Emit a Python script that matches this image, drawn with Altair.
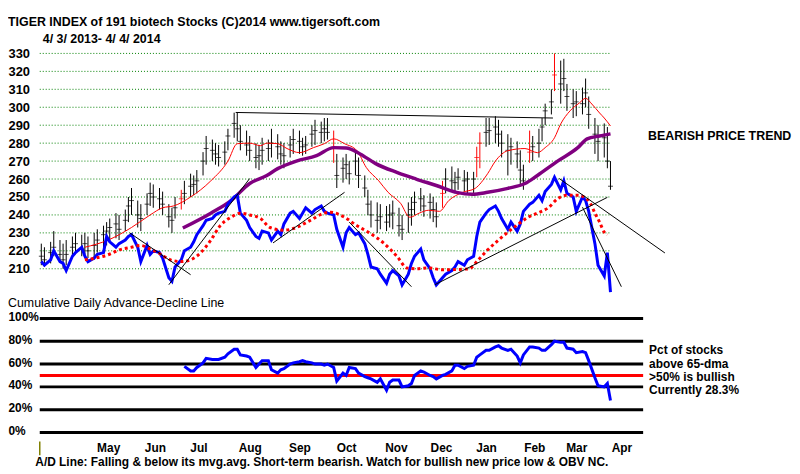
import altair as alt
import pandas as pd

FONT = "Liberation Sans"

# ---------------- text ----------------
TITLE = "TIGER INDEX of  191 biotech Stocks  (C)2014  www.tigersoft.com"
SUBTITLE = "4/ 3/ 2013- 4/ 4/ 2014"
PANEL2_TITLE = "Cumulative Daily Advance-Decline Line"
BOTTOM_NOTE = ("A/D Line: Falling & below its mvg.avg. Short-term bearish. "
               "Watch for bullish new price low & OBV NC.")
TREND_NOTE = "BEARISH PRICE TREND"
PCT_NOTE = "Pct of stocks\nabove 65-dma\n>50% is bullish\nCurrently  28.3%"

PRICE_TICKS = [210, 220, 230, 240, 250, 260, 270, 280, 290, 300, 310, 320, 330]
PCT_TICKS = [0, 20, 40, 60, 80, 100]
MONTH_TICKS = [(2013, 5, 16), (2013, 6, 15), (2013, 7, 13), (2013, 8, 15),
               (2013, 9, 16), (2013, 10, 16), (2013, 11, 17), (2013, 12, 16),
               (2014, 1, 14), (2014, 2, 14), (2014, 3, 13), (2014, 4, 11)]

# ---------------- price bars (every 2nd trading day) ----------------
HIGH = [224, 222, 225, 231, 226, 224, 226, 228, 230, 229,
        230, 228, 230, 232, 234, 236, 238, 241, 240, 243,
        250, 255, 248, 246, 252, 258, 257, 255, 253, 246,
        244, 250, 254, 259, 263, 262, 265, 275, 284, 282,
        280, 279, 281, 288, 297, 297, 290, 287, 284, 280,
        279, 283, 282, 288, 285, 281, 280, 284, 288, 287,
        283, 284, 290, 293, 292, 294, 294, 287, 274, 272,
        274, 270, 275, 272, 262, 254, 248, 247, 246, 245,
        246, 248, 244, 240, 247, 250, 253, 255, 251, 252,
        250, 247, 259, 266, 267, 264, 266, 265, 264, 264,
        278, 286, 294, 294, 295, 293, 287, 285, 283, 281,
        276, 268, 287, 284, 288, 294, 302, 310, 330, 326,
        327, 313, 310, 309, 311, 316, 306, 294, 290, 291,
        289, 270]
LOW = [212, 211, 213, 217, 214, 210, 212, 217, 218, 217,
       218, 216, 215, 219, 222, 223, 225, 227, 226, 231,
       236, 240, 233, 231, 240, 245, 244, 243, 240, 233,
       230, 238, 243, 246, 250, 251, 252, 262, 268, 270,
       268, 267, 268, 276, 283, 281, 276, 273, 270, 266,
       265, 268, 270, 272, 271, 268, 266, 272, 274, 274,
       273, 274, 278, 279, 280, 281, 282, 269, 255, 258,
       260, 257, 262, 255, 250, 240, 233, 230, 232, 231,
       233, 232, 228, 226, 230, 234, 240, 242, 239, 238,
       236, 233, 244, 252, 253, 252, 254, 253, 252, 252,
       261, 266, 278, 279, 280, 278, 272, 262, 268, 266,
       256, 254, 269, 270, 272, 281, 290, 296, 309, 302,
       309, 298, 294, 295, 296, 300, 288, 274, 270, 272,
       266, 254]
CLOSE = [217, 215, 219, 222, 218, 215, 218, 222, 224, 221,
         224, 220, 223, 226, 229, 231, 233, 235, 232, 237,
         245, 248, 240, 238, 246, 252, 250, 249, 246, 239,
         237, 244, 249, 252, 256, 257, 259, 270, 277, 276,
         274, 272, 275, 284, 291, 288, 281, 279, 276, 272,
         273, 276, 277, 280, 278, 274, 273, 279, 282, 281,
         278, 279, 285, 287, 286, 288, 286, 277, 262, 266,
         268, 263, 270, 262, 255, 246, 240, 237, 239, 236,
         240, 241, 234, 232, 240, 243, 247, 249, 245, 247,
         243, 239, 252, 260, 259, 258, 261, 259, 260, 260,
         272, 280, 286, 287, 289, 285, 280, 276, 278, 274,
         265, 259, 275, 278, 280, 289, 298, 303, 318, 313,
         316, 306, 302, 303, 302, 308, 296, 285, 281, 283,
         270, 256]
RED_BARS = [32, 67, 92, 100, 101, 112, 118]

# ---------------- A/D line (drawn in the price panel) ----------------
AD_LINE = [214, 212, 215, 220, 214, 213, 209, 217, 219, 222,
           217, 214, 216, 218, 219, 228, 225, 222, 224, 226,
           228, 229, 222, 214, 223, 218, 220, 219, 216, 205,
           203, 211, 215, 220, 222, 225, 229, 234, 237, 238,
           240, 241, 242, 246, 250, 251, 241, 237, 233, 228,
           227, 231, 230, 226, 231, 229, 235, 241, 242, 238,
           241, 244, 241, 243, 245, 242, 241, 240, 232, 222,
           230, 233, 229, 230, 224, 218, 211, 210, 207, 202,
           207, 209, 206, 201, 207, 213, 217, 221, 215, 210,
           205, 201, 205, 207, 209, 211, 214, 212, 215, 217,
           228, 236, 241, 243, 245, 242, 238, 232, 236, 231,
           235, 242, 246, 247, 251, 248, 253, 257, 261, 254,
           259, 252, 250, 242, 250, 248, 242, 224, 212, 206,
           219, 197]

# ---------------- pct of stocks above 65-dma (from bar #33) ----------------
PCT_START = 33
PCT = [58, 54, 54, 57, 61, 65, 64,
       64, 64, 66, 69, 73, 73, 68, 67, 66, 57,
       60, 63, 63, 55, 52, 55, 56, 60, 61, 62,
       63, 62, 61, 60, 60, 59, 60, 57, 45, 52,
       50, 57, 56, 52, 49, 48, 47, 44, 47, 37,
       44, 46, 46, 40, 41, 43, 50, 54, 53, 50,
       49, 47, 50, 51, 54, 59, 59, 56, 58, 59,
       66, 68, 72, 72, 75, 76, 74, 72, 73, 67,
       61, 68, 75, 75, 74, 72, 72, 77, 80, 79,
       79, 74, 73, 70, 71, 70, 63, 48, 41, 40,
       43, 28]

# ---------------- moving averages ----------------
RED_MA_DATES = ["2013-05-01", "2013-05-16", "2013-05-31", "2013-06-12", "2013-06-20",
                "2013-06-27", "2013-07-08", "2013-07-21", "2013-08-01", "2013-08-07",
                "2013-08-15", "2013-08-22", "2013-08-26", "2013-09-02", "2013-09-08",
                "2013-09-16", "2013-09-25", "2013-10-02", "2013-10-08", "2013-10-15",
                "2013-10-23", "2013-10-29", "2013-11-06", "2013-11-12", "2013-11-20",
                "2013-11-26", "2013-12-02", "2013-12-08", "2013-12-15", "2013-12-21",
                "2013-12-30", "2014-01-07", "2014-01-15", "2014-01-20", "2014-01-28",
                "2014-02-08", "2014-02-16", "2014-02-21", "2014-02-27", "2014-03-03",
                "2014-03-09", "2014-03-15", "2014-03-19", "2014-03-23", "2014-03-28",
                "2014-03-31", "2014-04-04"]
RED_MA = [222, 226, 233, 240, 244, 245, 250, 259, 270, 279.7,
          280, 278.6, 280, 279.7, 277, 274.7, 277.5, 279.7, 282.4, 279.7,
          275.8, 266.4, 259, 252.6, 246.5, 238.7, 241, 242.6, 242, 248,
          252.6, 254.8, 263, 270, 275.8, 277, 274.7, 277.5, 283, 290.7,
          298, 302.4, 305, 301.8, 296.8, 294, 289.6]

PURPLE_DATES = ["2013-07-03", "2013-07-21", "2013-08-03", "2013-08-15", "2013-08-26",
                "2013-09-02", "2013-09-14", "2013-09-27", "2013-10-08", "2013-10-16",
                "2013-10-25", "2013-11-04", "2013-11-18", "2013-11-30", "2013-12-13",
                "2013-12-26", "2014-01-05", "2014-01-15", "2014-01-28", "2014-02-08",
                "2014-02-16", "2014-03-01", "2014-03-14", "2014-03-20", "2014-03-28",
                "2014-04-04"]
PURPLE_MA = [232.7, 241, 248, 257.5, 262, 265.8, 270, 273, 277.5, 277.3,
             274, 268.6, 263.6, 260, 256.4, 252.6, 251.5, 252.6, 254.8, 257.5,
             262, 270, 277.5, 282.4, 284, 285.2]

AD_MA_DATES = ["2013-05-01", "2013-05-08", "2013-05-16", "2013-05-23", "2013-05-31",
               "2013-06-06", "2013-06-12", "2013-06-18", "2013-06-25", "2013-07-02",
               "2013-07-08", "2013-07-15", "2013-07-21", "2013-07-27", "2013-08-03",
               "2013-08-09", "2013-08-15", "2013-08-22", "2013-08-28", "2013-09-06",
               "2013-09-14", "2013-09-23", "2013-10-02", "2013-10-06", "2013-10-15",
               "2013-10-23", "2013-10-31", "2013-11-09", "2013-11-18", "2013-11-24",
               "2013-11-30", "2013-12-08", "2013-12-17", "2013-12-26", "2014-01-03",
               "2014-01-09", "2014-01-15", "2014-01-22", "2014-01-28", "2014-02-04",
               "2014-02-10", "2014-02-16", "2014-02-23", "2014-03-01", "2014-03-07",
               "2014-03-14", "2014-03-18", "2014-03-22", "2014-03-25", "2014-03-28",
               "2014-03-31", "2014-04-02"]
AD_MA = [215, 216, 217.8, 220.5, 222, 223, 221, 218.5, 215, 214,
         215, 219.4, 226, 234, 238.7, 241, 240, 238, 233, 231.5,
         233, 237, 241, 241.5, 238.7, 234, 230, 224.4, 216.6, 210.5,
         210, 210.5, 209.4, 209.6, 210, 215, 220.5, 226, 230.4, 235,
         238.7, 241, 244, 249, 251, 251, 250, 246.5, 241, 236,
         230.4, 229]

# ---------------- trend lines (start date, start value, end date, end value) ----------------
TREND_X1 = ["2013-05-30", "2013-06-24", "2013-08-30", "2013-10-18", "2013-12-12",
            "2014-03-02", "2014-03-17", "2013-08-06"]
TREND_Y1 = [229.9, 201.1, 224.4, 236.0, 201.1, 260.3, 244.3, 297.1]
TREND_X2 = ["2013-07-08", "2013-08-15", "2013-10-15", "2013-11-27", "2014-04-02",
            "2014-05-09", "2014-04-11", "2014-02-26"]
TREND_Y2 = [206.7, 260.3, 252.6, 200.0, 249.8, 218.8, 200.0, 294.0]

GRID_START = "2013-04-02"
GRID_END = "2014-04-04"
PANEL_END = "2014-04-25"

# ---------------- tables ----------------
dates = pd.bdate_range("2013-04-03", "2014-04-04")[::2]
n = min(len(dates), len(CLOSE))
bars = pd.DataFrame({"date": dates[:n], "high": HIGH[:n], "low": LOW[:n],
                     "close": CLOSE[:n],
                     "col": ["r" if i in RED_BARS else "k" for i in range(n)]})
ad = pd.DataFrame({"date": dates[:len(AD_LINE)], "v": AD_LINE[:len(dates)]})
pct = pd.DataFrame({"date": dates[PCT_START:PCT_START + len(PCT)], "v": PCT[:len(dates) - PCT_START]})
red_ma = pd.DataFrame({"date": pd.to_datetime(RED_MA_DATES), "v": RED_MA})
purple = pd.DataFrame({"date": pd.to_datetime(PURPLE_DATES), "v": PURPLE_MA})
ad_ma = pd.DataFrame({"date": pd.to_datetime(AD_MA_DATES), "v": AD_MA})
trends = pd.DataFrame({"x1": pd.to_datetime(TREND_X1), "y1": TREND_Y1,
                       "x2": pd.to_datetime(TREND_X2), "y2": TREND_Y2})
grid = pd.DataFrame({"v": PRICE_TICKS, "s": pd.to_datetime(GRID_START), "e": pd.to_datetime(GRID_END)})
lines = pd.DataFrame({"v": PCT_TICKS, "s": pd.to_datetime(GRID_START), "e": pd.to_datetime(PANEL_END)})
half = pd.DataFrame({"v": [50], "s": pd.to_datetime(GRID_START), "e": pd.to_datetime(PANEL_END)})
origin = pd.DataFrame({"d": pd.to_datetime([GRID_START])})

# ---------------- scales & axes ----------------
xs = alt.Scale(domain=[alt.DateTime(year=2013, month=4, date=2),
                       alt.DateTime(year=2014, month=4, date=25)])
ytop = alt.Scale(domain=[210, 330], range=[225, 8], nice=False, zero=False)
ybot = alt.Scale(domain=[0, 100], range=[390, 275], nice=False, zero=False)

XAXIS = alt.Axis(values=[alt.DateTime(year=y, month=m, date=d) for y, m, d in MONTH_TICKS],
                 format="%b", ticks=False, tickSize=0, domain=False, grid=False,
                 labelFont=FONT, labelFontSize=12, labelFontWeight="bold", labelColor="black",
                 labelPadding=4, labelFlush=False, labelOverlap=False,
                 title=BOTTOM_NOTE, titleFont=FONT, titleFontSize=12, titleFontWeight="bold",
                 titleColor="black", titleX=-5, titleY=27, titleAlign="left",
                 titleBaseline="alphabetic")
TOPAXIS = alt.Axis(values=PRICE_TICKS, orient="left", title=None, labelAlign="left",
                   labelPadding=32, ticks=False, tickSize=0, domain=False, grid=False,
                   labelFont=FONT, labelFontSize=13, labelFontWeight="bold",
                   labelColor="black", labelBaseline="middle", labelOverlap=False,
                   labelFlush=False)
BOTAXIS = alt.Axis(values=PCT_TICKS, orient="left", title=None, labelAlign="left",
                   labelPadding=32, ticks=False, tickSize=0, domain=False, grid=False,
                   labelFont=FONT, labelFontSize=12, labelFontWeight="bold",
                   labelColor="black", labelBaseline="middle", labelOverlap=False,
                   labelFlush=False, labelOffset=-2, labelExpr="datum.value + '%'")


def X(f):
    return alt.X(f, type="temporal", scale=xs, axis=XAXIS)


def YT(f):
    return alt.Y(f, type="quantitative", scale=ytop, axis=TOPAXIS)


def YB(f):
    return alt.Y(f, type="quantitative", scale=ybot, axis=BOTAXIS)


bar_color = alt.Color("col:N", scale=alt.Scale(domain=["k", "r"], range=["#000000", "#ff0000"]),
                      legend=None)

top = alt.layer(
    alt.Chart(grid).mark_rule(color="#008000", strokeDash=[1, 2], strokeWidth=1).encode(
        x=X("s"), x2=alt.X2("e"), y=YT("v")),
    alt.Chart(bars).mark_rule(strokeWidth=1).encode(
        x=X("date"), y=YT("high"), y2=alt.Y2("low"), color=bar_color),
    alt.Chart(bars).mark_tick(orient="horizontal", size=5, thickness=1).encode(
        x=X("date"), y=YT("close"), color=bar_color),
    alt.Chart(red_ma).mark_line(color="#ff0000", strokeWidth=1, interpolate="monotone").encode(
        x=X("date"), y=YT("v")),
    alt.Chart(purple).mark_line(color="#800080", strokeWidth=3.5, interpolate="monotone").encode(
        x=X("date"), y=YT("v")),
    alt.Chart(ad).mark_line(color="#0000ff", strokeWidth=3).encode(
        x=X("date"), y=YT("v")),
    alt.Chart(ad_ma).mark_line(color="#ff0000", strokeWidth=3, strokeDash=[3, 3],
                               interpolate="monotone").encode(
        x=X("date"), y=YT("v")),
    alt.Chart(trends).mark_rule(color="#000000", strokeWidth=1).encode(
        x=X("x1"), x2=alt.X2("x2"), y=YT("y1"), y2=alt.Y2("y2")),
)

bottom = alt.layer(
    alt.Chart(lines).mark_rule(color="#000000", strokeWidth=3).encode(
        x=X("s"), x2=alt.X2("e"), y=YB("v")),
    alt.Chart(half).mark_rule(color="#ff0000", strokeWidth=3).encode(
        x=X("s"), x2=alt.X2("e"), y=YB("v")),
    alt.Chart(pct).mark_line(color="#0000ff", strokeWidth=3).encode(
        x=X("date"), y=YB("v")),
)


def note(text, x, y, size=12, weight="bold"):
    return alt.Chart(pd.DataFrame({"t": [text]})).mark_text(
        align="left", baseline="alphabetic", font=FONT, fontSize=size, fontWeight=weight,
        color="black", lineBreak="\n", lineHeight=13.5).encode(
        text="t:N", x=alt.value(x), y=alt.value(y))


tick0 = alt.Chart(origin).mark_rule(color="#808000", strokeWidth=1.5).encode(
    x=X("d"), y=alt.value(399), y2=alt.value(413))

chart = alt.layer(
    top, bottom, tick0,
    note(TITLE, -32, -19.5, 12.5),
    note(SUBTITLE, 3, -3, 12.5),
    note(PANEL2_TITLE, -32, 264, 12.5, "normal"),
    note(TREND_NOTE, 613, 95, 12.5),
    note(PCT_NOTE, 614, 311, 12),
).resolve_scale(y="independent").properties(
    width=608, height=396,
    autosize=alt.AutoSizeParams(type="none"),
    padding={"left": 32, "top": 36, "right": 150, "bottom": 30},
    background="white",
).configure_view(stroke=None)

chart.save("out.html", embed_options={"renderer": "svg", "actions": False})
